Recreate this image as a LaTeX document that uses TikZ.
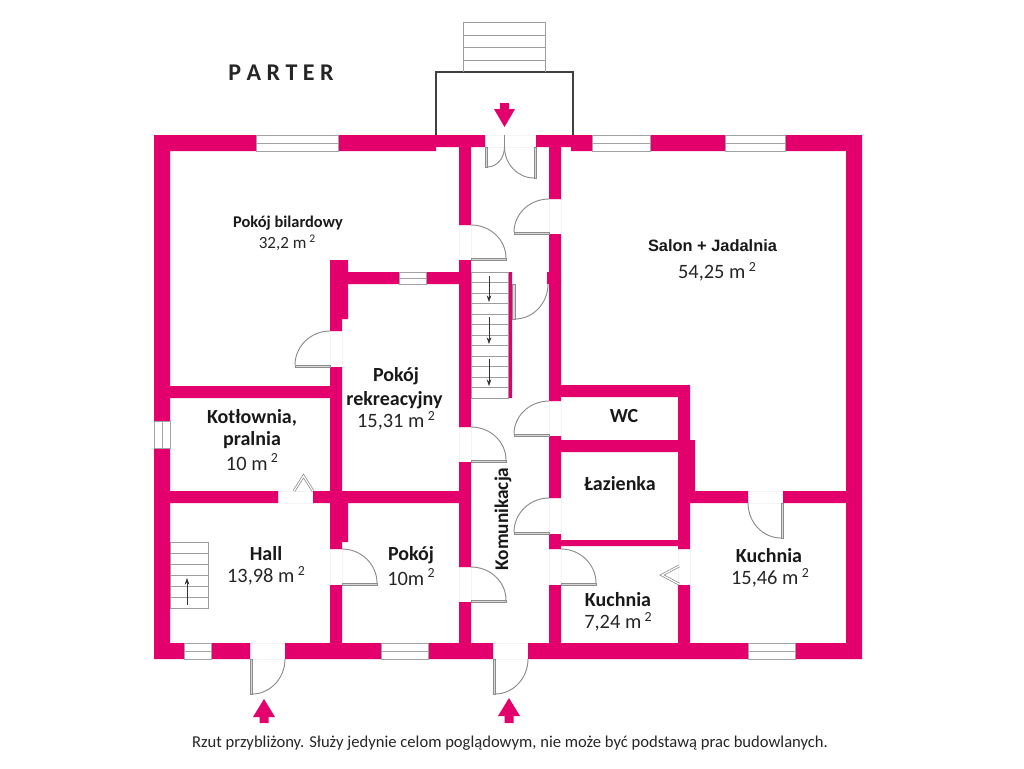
\documentclass[tikz,border=0pt]{standalone}
\usepackage{fontspec}
\usetikzlibrary{arrows.meta}
\setmainfont{Carlito}
\newfontfamily\arialf{Liberation Sans}
\definecolor{wallc}{HTML}{E3006D}
\definecolor{doorc}{HTML}{8C8C8C}
\definecolor{jambc}{HTML}{F4F4F4}
\newcommand{\qarc}[4]{%
  \pgfmathsetmacro\cax{#1+0.55*(#3-#1)}%
  \pgfmathsetmacro\cby{#4-0.55*(#4-#2)}%
  \draw[doorline] (#1,#2) .. controls (\cax,#2) and (#3,\cby) .. (#3,#4);}
\newcommand{\dbar}[4]{\draw[doorbar] (#1,#2) rectangle (#3,#4);}
\newcommand{\winh}[4]{% horizontal-running window
  \draw[winline] (#1,#2) rectangle (#3,#4);
  \pgfmathsetmacro\cmid{(#2+#4)/2}%
  \draw[winline] (#1,\cmid) -- (#3,\cmid);}
\newcommand{\sqm}{\,\raisebox{0.75ex}{\fontsize{0.68em}{1em}\selectfont 2}}
\tikzset{
  wallfill/.style={fill=wallc,draw=none},
  doorline/.style={draw=doorc,line width=0.7pt},
  doorbar/.style={draw=doorc,fill=doorc!35,line width=0.5pt},
  winline/.style={draw=doorc!80,fill=white,line width=0.6pt},
  stairline/.style={draw=doorc!85,line width=0.6pt},
  jamb/.style={draw=jambc,line width=0.5pt},
  walkarrow/.style={fill=wallc,draw=none},
  big/.style={font=\fontsize{15.3pt}{17pt}\selectfont,text=black!85,inner sep=0pt},
  bigb/.style={font=\fontsize{15pt}{17pt}\selectfont\bfseries,text=black!90,inner sep=0pt},
  small/.style={font=\fontsize{12.3pt}{14pt}\selectfont\arialf\bfseries,text=black!90,inner sep=0pt},
  smallc/.style={font=\fontsize{12.3pt}{14pt}\selectfont\bfseries,text=black!90,inner sep=0pt},
  smalln/.style={font=\fontsize{12.8pt}{14pt}\selectfont,text=black!85,inner sep=0pt},
}
\begin{document}
\begin{tikzpicture}[x=0.75pt,y=-0.75pt]
\useasboundingbox (0,0) rectangle (1024,768);
\fill[white] (0,0) rectangle (1024,768);
% porch
\draw[draw=black!75,line width=0.8pt] (436,135) -- (436,72) -- (573,72) -- (573,135);
% outdoor stairs
\draw[stairline] (463,72) -- (463,22) -- (545.5,22) -- (545.5,72);
\foreach \yy in {35,47.5,60} \draw[stairline] (463,\yy) -- (545.5,\yy);
% door gap jambs
\foreach \xa/\xb/\ya/\yb in {485/536/135/147,459/471/225/260,459/471/427/462,459/471/567/602,
   549/561/199/234,549/561/401/436,549/561/498/534,549/561/549/585,678/690/549/585,
   330/342/331/367,330/342/549/585,278/313/491/503,748/783/491/503,250/285/643/659,493/528/643/659,
   549/561/272/284}
  \draw[jamb] (\xa,\ya) rectangle (\xb,\yb);
% walls
\fill[wallfill]
  % outer top
  (154,135) rectangle (256,151) (338,135) rectangle (436,151) (436,135) rectangle (485,147)
  (536,135) rectangle (571,147) (571,135) rectangle (592,151) (650,135) rectangle (725,151)
  (785,135) rectangle (862,151)
  % outer left / right
  (154,135) rectangle (170,421) (154,448) rectangle (170,659) (846,135) rectangle (862,659)
  % outer bottom
  (154,643) rectangle (184,659) (211,643) rectangle (250,659) (285,643) rectangle (381,659)
  (428,643) rectangle (493,659) (528,643) rectangle (748,659) (795,643) rectangle (862,659)
  % corridor left wall
  (459,147) rectangle (471,225) (459,260) rectangle (471,427) (459,462) rectangle (471,567) (459,602) rectangle (471,643)
  % corridor right wall
  (549,147) rectangle (561,199) (549,234) rectangle (561,401) (547,272) rectangle (549,284)
  (549,436) rectangle (561,498) (549,534) rectangle (561,549) (549,585) rectangle (561,643)
  % billiard room bottom
  (170,386) rectangle (330,398)
  % recreation room
  (330,260) rectangle (348,319) (330,319) rectangle (342,331) (348,272) rectangle (399,284) (426,272) rectangle (459,284)
  (330,367) rectangle (342,549) (342,503) rectangle (348,542) (330,585) rectangle (342,643)
  % horizontal at 491
  (170,491) rectangle (278,503) (313,491) rectangle (459,503)
  % WC and bath
  (561,385) rectangle (690,397) (678,385) rectangle (690,440)
  (561,440) rectangle (695,452) (678,440) rectangle (695,503) (678,503) rectangle (690,549)
  (561,540) rectangle (678,546) (678,585) rectangle (690,643)
  (695,491) rectangle (748,503) (783,491) rectangle (846,503)
  % thin stair wall
  (508,272) rectangle (512,398);
% windows
\winh{256}{135}{338}{151}
\winh{592}{135}{650}{151}
\winh{725}{135}{785}{151}
\winh{184}{643}{211}{659}
\winh{381}{643}{428}{659}
\winh{748}{643}{795}{659}
\winh{399}{272}{426}{284}
\draw[winline] (154,421) rectangle (170,448);
\draw[winline] (162,421) -- (162,448);
% main doors
\dbar{485}{147}{487.5}{167}
\dbar{534}{147}{536.5}{178}
\draw[doorline] (504.5,135) -- (504.5,147);
\qarc{487.5}{167}{504.5}{147}
\qarc{534}{178}{504.5}{147}
% interior doors
\dbar{471}{258}{506}{260}  \qarc{471}{225}{506}{258}
\dbar{471}{460}{506}{462}  \qarc{471}{427}{506}{460}
\dbar{471}{600}{506}{602}  \qarc{471}{567}{506}{600}
\dbar{514}{232}{549}{234}  \qarc{549}{199}{514}{232}
\dbar{514}{434}{549}{436}  \qarc{549}{401}{514}{434}
\dbar{514}{532}{549}{534}  \qarc{549}{498}{514}{532}
\dbar{561}{583}{596}{585}  \qarc{561}{549}{596}{583}
\dbar{295}{365}{330}{367}  \qarc{330}{331}{295}{365}
\dbar{342}{583}{377}{585}  \qarc{342}{549}{377}{583}
\dbar{512}{284}{515}{319}  \qarc{515}{319}{548}{284}
\dbar{250}{659}{252}{694}  \qarc{252}{694}{285}{659}
\dbar{493}{659}{495}{694}  \qarc{495}{694}{528}{659}
\dbar{781}{503}{783}{538}  \qarc{781}{538}{748}{503}
% folding doors
\draw[draw=doorc,line width=2pt,line join=miter] (294,491) -- (303.5,476) -- (313,491);
\draw[draw=white,line width=0.9pt,line join=miter] (294,491) -- (303.5,476) -- (313,491);
\draw[draw=doorc,line width=2pt,line join=miter] (679,566) -- (662,575) -- (679,584);
\draw[draw=white,line width=0.9pt,line join=miter] (679,566) -- (662,575) -- (679,584);
% corridor stairs
\draw[stairline] (471,272) rectangle (508,398);
\foreach \k in {1,...,11} \draw[stairline] (471,272+\k*10.5) -- (508,272+\k*10.5);
\foreach \ya/\yb in {276/302,317/344,359/386}
  \draw[draw=black!80,line width=0.5pt,-{Stealth[length=5pt,width=3.5pt]}] (489,\ya) -- (489,\yb);
% hall stairs
\draw[stairline] (170,542) rectangle (208,608);
\foreach \k in {1,...,5} \draw[stairline] (170,542+\k*11) -- (208,542+\k*11);
\draw[draw=black!80,line width=0.5pt,-{Stealth[length=5pt,width=3.5pt]}] (187,605) -- (187,578);
% entry arrows
\fill[walkarrow] (500,103) -- (509,103) -- (509,109) -- (515,109) -- (504.5,127) -- (494,109) -- (500,109) -- cycle;
\fill[walkarrow] (259.5,723) -- (268.5,723) -- (268.5,717) -- (275,717) -- (264,699) -- (253,717) -- (259.5,717) -- cycle;
\fill[walkarrow] (504.5,723) -- (513.5,723) -- (513.5,716) -- (520,716) -- (509,698) -- (498,716) -- (504.5,716) -- cycle;
% texts
\node[font=\fontsize{18pt}{20pt}\selectfont\bfseries,text=black!85,inner sep=0pt] (title) at (281,73) {P A R T E R};
\node[smallc] (t1a) at (288,223) {Pokój bilardowy};
\node[smalln] (t1b) at (287,243) {32,2 m\sqm};
\node[small] (t2a) at (712.5,246) {Salon + Jadalnia};
\node[big] (t2b) at (717,272) {54,25 m\sqm};
\node[bigb] (t3a) at (396,376) {Pokój};
\node[bigb] (t3b) at (394.5,400) {rekreacyjny};
\node[big] (t3c) at (396,421) {15,31 m\sqm};
\node[bigb] (t4a) at (252,418) {Kotłownia,};
\node[bigb] (t4b) at (252,440) {pralnia};
\node[big] (t4c) at (252,462) {10 m\sqm};
\node[bigb] (t5a) at (266,554) {Hall};
\node[big] (t5b) at (266,576) {13,98 m\sqm};
\node[bigb] (t6a) at (411,555) {Pokój};
\node[big] (t6b) at (411,577) {10m\sqm};
\node[bigb,rotate=90,font=\fontsize{14.5pt}{17pt}\selectfont\bfseries] (t7) at (503,519) {Komunikacja};
\node[bigb] (t8) at (624,416) {WC};
\node[bigb] (t9) at (620,484) {Łazienka};
\node[bigb] (t10a) at (618,600) {Kuchnia};
\node[big] (t10b) at (618,622) {7,24 m\sqm};
\node[bigb] (t11a) at (769,556) {Kuchnia};
\node[big] (t11b) at (770,578) {15,46 m\sqm};
\node[font=\fontsize{12.45pt}{14pt}\selectfont,text=black!85,inner sep=0pt] (foot) at (510,743) {Rzut przybliżony. Służy jedynie celom poglądowym, nie może być podstawą prac budowlanych.};
\end{tikzpicture}
\end{document}
